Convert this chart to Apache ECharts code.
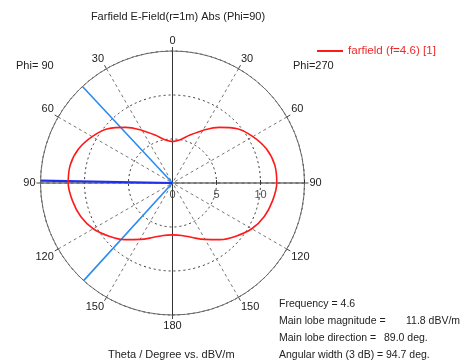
<!DOCTYPE html>
<html>
<head>
<meta charset="utf-8">
<script src="https://cdn.jsdelivr.net/npm/echarts@6/dist/echarts.min.js"></script>
<style>
  html, body { margin: 0; padding: 0; background: #fff; }
  #chart { width: 473px; height: 362px; }
</style>
</head>
<body>
<div id="chart"></div>
<script>
// Farfield E-field cut, Theta in degrees, magnitude in dBV/m
const thetaDeg = [0, 10, 20, 30, 40, 50, 60, 70, 80, 90, 100, 110, 120, 130, 140, 150, 160, 170, 180];
const fieldPhi90 = [4.7, 5.0, 5.8, 6.9, 8.25, 9.6, 10.55, 11.35, 11.8, 11.85, 11.55, 11.1, 10.4, 9.4, 8.4, 7.4, 6.6, 6.05, 5.9];
const fieldPhi270 = [4.7, 5.0, 5.8, 6.9, 8.25, 9.6, 10.55, 11.35, 11.8, 11.85, 11.55, 11.1, 10.4, 9.4, 8.4, 7.4, 6.6, 6.05, 5.9];
const mainLobeDir = 89.0;          // deg
const beamEdges = [43.0, 137.7];   // -3 dB edges, deg
const radiusTicks = [0, 5, 10, 15];
const seriesName = 'farfield (f=4.6) [1]';
const infoLabels = ['Frequency = 4.6', 'Main lobe magnitude =', 'Main lobe direction =', 'Angular width (3 dB) ='];
const infoValues = ['', '11.8 dBV/m', '89.0 deg.', '94.7 deg.'];

const FONT = 'Liberation Sans';
const rMax = radiusTicks[radiusTicks.length - 1];

// Polar angle (counter-clockwise from +x) for theta on each half-plane
const leftAngle = t => 90 + t;              // Phi = 90 side
const rightAngle = t => (450 - t) % 360;    // Phi = 270 side
// Polar angle back to theta label
const angleToTheta = a => (a >= 90 && a <= 270) ? a - 90 : (450 - a) % 360;

const curve = [];
thetaDeg.forEach((t, i) => curve.push([fieldPhi90[i], leftAngle(t)]));
for (let i = thetaDeg.length - 1; i >= 0; i--) curve.push([fieldPhi270[i], rightAngle(thetaDeg[i])]);

const chart = echarts.init(document.getElementById('chart'), null, { renderer: 'canvas' });

const axisLineStyle = { color: '#333', width: 1 };
const infoX = [0, 406, 384, 386];

chart.setOption({
  animation: false,
  backgroundColor: '#fff',
  title: {
    text: 'Farfield E-Field(r=1m) Abs (Phi=90)',
    left: 173, top: 6, textAlign: 'center',
    textStyle: { fontFamily: FONT, fontSize: 11, fontWeight: 'normal', color: '#222' }
  },
  legend: {
    data: [seriesName],
    left: 312, top: 40,
    icon: 'rect', itemWidth: 26, itemHeight: 2, itemGap: 6,
    textStyle: { fontFamily: FONT, fontSize: 11.6, color: '#f02828' }
  },
  polar: { center: [172.5, 183], radius: 132 },
  angleAxis: {
    type: 'value', min: 0, max: 360, interval: 30,
    startAngle: 0, clockwise: false,
    axisLine: { lineStyle: { color: '#6a6a6a', width: 1 } },
    axisTick: { show: true, length: 4, lineStyle: { color: '#444' } },
    axisLabel: {
      margin: 5, fontFamily: FONT, fontSize: 11, color: '#222',
      formatter: v => (v === 360 ? '' : String(angleToTheta(v)))
    },
    splitLine: { show: true, lineStyle: { color: '#777', type: [3, 3], width: 1 } }
  },
  radiusAxis: {
    type: 'value', min: 0, max: rMax, interval: 5,
    axisLine: { show: false },
    axisTick: { show: true, length: 3, lineStyle: { color: '#333' } },
    axisLabel: { show: false },
    splitLine: { show: true, lineStyle: { color: '#333', type: [2, 3], width: 1 } }
  },
  series: [
    {
      type: 'line', coordinateSystem: 'polar', symbol: 'none', silent: true,
      lineStyle: axisLineStyle,
      data: [[rMax, leftAngle(0)], [0, 0], [rMax, leftAngle(180)]]
    },
    {
      type: 'line', coordinateSystem: 'polar', symbol: 'none', silent: true,
      lineStyle: axisLineStyle,
      data: [[rMax, leftAngle(90)], [0, 0], [rMax, rightAngle(90)]]
    },
    {
      // radial scale labels along the Phi=270 horizontal
      type: 'scatter', coordinateSystem: 'polar', symbolSize: 0, silent: true,
      data: radiusTicks.slice(0, -1).map(r => [r, 0]),
      label: {
        show: true, position: 'bottom', distance: 6,
        fontFamily: FONT, fontSize: 11, color: '#222',
        formatter: p => String(p.value[0])
      }
    },
    {
      type: 'line', coordinateSystem: 'polar', symbol: 'none', silent: true,
      lineStyle: { color: '#2b8cf0', width: 1.6 },
      data: [[rMax, leftAngle(beamEdges[0])], [0, 0], [rMax, leftAngle(beamEdges[1])]]
    },
    {
      type: 'line', coordinateSystem: 'polar', symbol: 'none', silent: true,
      lineStyle: { color: '#2030e8', width: 2.2 },
      data: [[rMax, leftAngle(mainLobeDir)], [0, 0]]
    },
    {
      name: seriesName,
      type: 'line', coordinateSystem: 'polar', symbol: 'none', smooth: 0.35,
      lineStyle: { color: '#ff1a1a', width: 1.6 },
      itemStyle: { color: '#ff1a1a' },
      data: curve
    }
  ],
  graphic: [
    { type: 'text', left: 16, top: 60, style: { text: 'Phi= 90', font: '11px ' + FONT, fill: '#222' } },
    { type: 'text', left: 293, top: 60, style: { text: 'Phi=270', font: '11px ' + FONT, fill: '#222' } },
    { type: 'text', left: 108, top: 349, style: { text: 'Theta / Degree vs. dBV/m', font: '11px ' + FONT, fill: '#222' } }
  ].concat(infoLabels.flatMap((txt, i) => {
    const y = 299 + i * 17;
    const out = [{ type: 'text', left: 279, top: y, style: { text: txt, font: '10.5px ' + FONT, fill: '#222' } }];
    if (infoValues[i]) out.push({ type: 'text', left: infoX[i], top: y, style: { text: infoValues[i], font: '10.5px ' + FONT, fill: '#222' } });
    return out;
  }))
});
</script>
</body>
</html>
